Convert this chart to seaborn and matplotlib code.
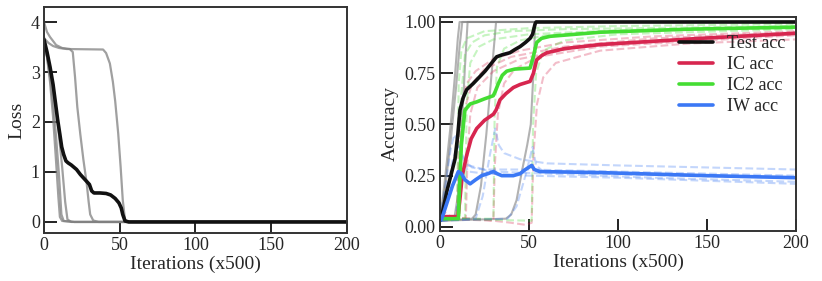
import seaborn as sns
import matplotlib.pyplot as plt

# ---- loss curves (iteration x500, loss) ----
loss_run1 = [(0, 3.7), (2, 3.3), (4, 2.8), (6, 2.1), (8, 1.2), (9.5, 0.5), (10.5, 0.1), (12, 0.02), (20, 0.0), (200, 0.0)]
loss_run2 = [(0, 3.6), (2, 3.3), (4, 2.9), (6, 2.4), (8, 1.7), (10, 0.9), (11.5, 0.15), (13, 0.02), (20, 0.0), (200, 0.0)]
loss_run3 = [(0, 3.55), (3, 3.2), (6, 2.7), (9, 2.0), (12, 1.1), (14, 0.4), (15.5, 0.05), (18, 0.0), (200, 0.0)]
loss_run4 = [(0, 4.0), (2, 3.8), (4, 3.7), (8, 3.54), (12, 3.48), (17, 3.46), (19, 3.4), (20.5, 2.9), (22, 2.3),
             (24, 1.75), (26, 1.25), (28.2, 0.77), (29.5, 0.4), (30.5, 0.15), (32.5, 0.03), (36, 0.0), (200, 0.0)]
loss_run5 = [(0, 3.68), (3, 3.58), (6, 3.52), (10, 3.48), (15, 3.46), (39, 3.45), (41, 3.38), (43.5, 3.17), (45.5, 2.8),
             (47, 2.42), (49, 1.77), (50.6, 1.1), (52, 0.44), (53.5, 0.04), (56, 0.0), (200, 0.0)]
loss_mean = [(0, 3.65), (2, 3.4), (4, 3.1), (6, 2.75), (7.5, 2.4), (9, 2.05), (10.5, 1.75), (11.7, 1.5), (13, 1.35),
             (14.5, 1.22), (16, 1.18), (18, 1.14), (21.5, 1.05), (24, 0.95), (27, 0.85), (30, 0.75), (31.5, 0.62),
             (33, 0.58), (37, 0.58), (41, 0.57), (44, 0.54), (47, 0.47), (49.5, 0.38), (51, 0.28), (52, 0.15),
             (53.5, 0.02), (56, 0.0), (200, 0.0)]

# ---- accuracy curves ----
test_run1 = [(0, 0.03), (3, 0.25), (6, 0.5), (8.5, 0.75), (10, 0.92), (11, 1.0), (200, 1.0)]
test_run2 = [(0, 0.03), (3, 0.2), (6, 0.42), (9, 0.68), (11, 0.88), (12.5, 1.0), (200, 1.0)]
test_run3 = [(0, 0.03), (8, 0.04), (10, 0.15), (12, 0.45), (14, 0.78), (15.5, 1.0), (200, 1.0)]
test_run4 = [(0, 0.03), (18, 0.04), (20, 0.06), (23, 0.2), (26, 0.45), (29, 0.75), (31.5, 1.0), (200, 1.0)]
test_run5 = [(0, 0.03), (37, 0.04), (40, 0.06), (43, 0.13), (46, 0.27), (49, 0.4), (51, 0.5), (52.5, 0.75),
             (53.5, 1.0), (200, 1.0)]
test_mean = [(0, 0.03), (1, 0.055), (4, 0.18), (8.4, 0.33), (10, 0.45), (11.2, 0.57), (13, 0.63), (15, 0.67),
             (18.7, 0.7), (22, 0.73), (25.3, 0.76), (29, 0.8), (31.8, 0.83), (35, 0.84), (39.3, 0.85), (42, 0.865),
             (45, 0.88), (48, 0.9), (50.6, 0.92), (52, 0.94), (53.4, 0.99), (54, 1.0), (200, 1.0)]

ic_run1 = [(0, 0.05), (3, 0.07), (6, 0.05), (9.5, 0.05), (10.5, 0.4), (12, 0.6), (15, 0.7), (20, 0.76), (30, 0.82),
           (45, 0.86), (70, 0.9), (120, 0.93), (200, 0.955)]
ic_run2 = [(0, 0.05), (11, 0.05), (12, 0.38), (14, 0.58), (18, 0.7), (25, 0.77), (40, 0.83), (70, 0.88),
           (120, 0.92), (200, 0.95)]
ic_run3 = [(0, 0.05), (14.5, 0.04), (15.5, 0.35), (17, 0.55), (21, 0.68), (30, 0.76), (45, 0.82), (80, 0.88),
           (200, 0.94)]
ic_run4 = [(0, 0.05), (20, 0.04), (30, 0.03), (30.8, 0.3), (32.5, 0.55), (36, 0.7), (42, 0.77), (55, 0.83),
           (90, 0.88), (200, 0.935)]
ic_run5 = [(0, 0.04), (30, 0.03), (40, 0.02), (48, 0.01), (51.5, 0.02), (52.5, 0.35), (54.5, 0.6), (58, 0.73),
           (65, 0.8), (90, 0.86), (140, 0.895), (200, 0.915)]
ic_mean = [(0, 0.05), (10, 0.05), (11, 0.12), (12.5, 0.25), (15, 0.35), (17.5, 0.43), (20.6, 0.48), (25, 0.52),
           (30, 0.55), (31.5, 0.57), (33.7, 0.62), (37, 0.65), (41.2, 0.68), (45, 0.695), (50.6, 0.71),
           (52.5, 0.75), (54.3, 0.815), (57, 0.835), (60, 0.85), (70, 0.87), (90, 0.89), (146, 0.92), (200, 0.945)]

ic2_run1 = [(0, 0.04), (9.5, 0.04), (10.5, 0.7), (12, 0.86), (15, 0.92), (25, 0.955), (50, 0.97), (100, 0.98),
            (200, 0.99)]
ic2_run2 = [(0, 0.04), (11, 0.04), (12, 0.65), (14, 0.84), (18, 0.9), (25, 0.935), (40, 0.955), (70, 0.965),
            (200, 0.98)]
ic2_run3 = [(0, 0.04), (14, 0.04), (15, 0.6), (17, 0.8), (22, 0.88), (30, 0.915), (50, 0.94), (100, 0.96),
            (200, 0.975)]
ic2_run4 = [(0, 0.04), (30, 0.04), (30.7, 0.55), (32, 0.78), (36, 0.87), (45, 0.91), (60, 0.935), (100, 0.955),
            (200, 0.97)]
ic2_run5 = [(0, 0.04), (51.5, 0.03), (52.3, 0.5), (54, 0.75), (58, 0.86), (70, 0.91), (100, 0.94), (200, 0.965)]
ic2_mean = [(0, 0.04), (10.3, 0.04), (11, 0.2), (12, 0.4), (14, 0.57), (17, 0.6), (20.6, 0.61), (25, 0.625),
            (29.9, 0.64), (31, 0.66), (32.8, 0.7), (35, 0.74), (37.5, 0.76), (42, 0.77), (50.6, 0.775),
            (52.4, 0.83), (54.3, 0.9), (57, 0.92), (61.8, 0.93), (90, 0.95), (140, 0.965), (200, 0.975)]

iw_run1 = [(0, 0.03), (3, 0.2), (6, 0.38), (8, 0.45), (10, 0.42), (13, 0.33), (18, 0.29), (30, 0.27), (60, 0.26),
           (120, 0.24), (200, 0.22)]
iw_run2 = [(0, 0.03), (3, 0.15), (7, 0.32), (10, 0.4), (12, 0.36), (16, 0.3), (25, 0.28), (50, 0.28), (100, 0.27),
           (200, 0.25)]
iw_run3 = [(0, 0.03), (8, 0.04), (11, 0.15), (14, 0.3), (16, 0.27), (25, 0.26), (50, 0.25), (100, 0.24),
           (200, 0.21)]
iw_run4 = [(0, 0.03), (20, 0.04), (24, 0.15), (28, 0.35), (31, 0.48), (33, 0.4), (36, 0.36), (45, 0.33),
           (60, 0.31), (100, 0.3), (200, 0.28)]
iw_run5 = [(0, 0.03), (38, 0.04), (43, 0.1), (48, 0.25), (52, 0.39), (54, 0.3), (58, 0.27), (80, 0.26),
           (130, 0.25), (200, 0.24)]
iw_mean = [(0, 0.03), (1, 0.04), (4, 0.12), (7, 0.2), (10.3, 0.27), (12, 0.26), (14, 0.23), (16.9, 0.21),
           (20, 0.23), (23.4, 0.25), (27, 0.26), (30, 0.27), (32, 0.26), (34.7, 0.25), (41.2, 0.25), (45, 0.26),
           (48, 0.28), (51.5, 0.3), (53, 0.28), (56, 0.27), (90, 0.265), (150, 0.25), (200, 0.24)]

C_TEST = "#111111"
C_IC = "#d7264f"
C_IC2 = "#44dd33"
C_IW = "#3b78f5"

sns.set_style("ticks")
plt.rcParams["font.family"] = ["Liberation Serif", "DejaVu Serif"]


def draw(ax, pts, **kw):
    xs = [p[0] for p in pts]
    ys = [p[1] for p in pts]
    sns.lineplot(x=xs, y=ys, ax=ax, estimator=None, sort=False, **kw)


def style_axes(ax):
    for s in ax.spines.values():
        s.set_linewidth(1.4)
        s.set_color("#333333")
    ax.tick_params(direction="in", length=9, width=1.4, color="#222222", labelsize=13, pad=3)
    ax.set_xlim(0, 200)
    ax.set_xticks([0, 50, 100, 150, 200])
    ax.set_xlabel("Iterations (x500)", fontsize=14, labelpad=1)


fig = plt.figure(figsize=(8.22, 2.81), dpi=100)
ax1 = fig.add_axes([0.0535, 0.171, 0.3686, 0.804])
ax2 = fig.add_axes([0.5353, 0.178, 0.433, 0.762])

# left: loss
for run in [loss_run1, loss_run2, loss_run3, loss_run4, loss_run5]:
    draw(ax1, run, color="gray", alpha=0.75, lw=1.6)
draw(ax1, loss_mean, color=C_TEST, lw=2.6)
ax1.set_ylim(-0.22, 4.3)
ax1.set_yticks([0, 1, 2, 3, 4])
ax1.set_ylabel("Loss", fontsize=14, labelpad=4)
style_axes(ax1)

# right: accuracy
for run in [test_run1, test_run2, test_run3, test_run4, test_run5]:
    draw(ax2, run, color="gray", alpha=0.6, lw=1.5)
for runs, col in [([ic_run1, ic_run2, ic_run3, ic_run4, ic_run5], C_IC),
                  ([ic2_run1, ic2_run2, ic2_run3, ic2_run4, ic2_run5], C_IC2),
                  ([iw_run1, iw_run2, iw_run3, iw_run4, iw_run5], C_IW)]:
    for run in runs:
        draw(ax2, run, color=col, alpha=0.3, lw=1.5, linestyle="--")
draw(ax2, test_mean, color=C_TEST, lw=2.6, label="Test acc")
draw(ax2, ic_mean, color=C_IC, lw=2.6, label="IC acc")
draw(ax2, ic2_mean, color=C_IC2, lw=2.6, label="IC2 acc")
draw(ax2, iw_mean, color=C_IW, lw=2.6, label="IW acc")
ax2.set_ylim(-0.02, 1.025)
ax2.set_yticks([0, 0.25, 0.5, 0.75, 1.0])
ax2.set_yticklabels(["0.00", "0.25", "0.50", "0.75", "1.00"])
ax2.set_ylabel("Accuracy", fontsize=14, labelpad=4)
style_axes(ax2)
ax2.legend(loc="upper right", bbox_to_anchor=(1.0, 0.965), frameon=False, fontsize=13,
           handlelength=1.9, handletextpad=0.75, labelspacing=0.22, borderaxespad=0.2)

fig.savefig("out.png", dpi=100)
